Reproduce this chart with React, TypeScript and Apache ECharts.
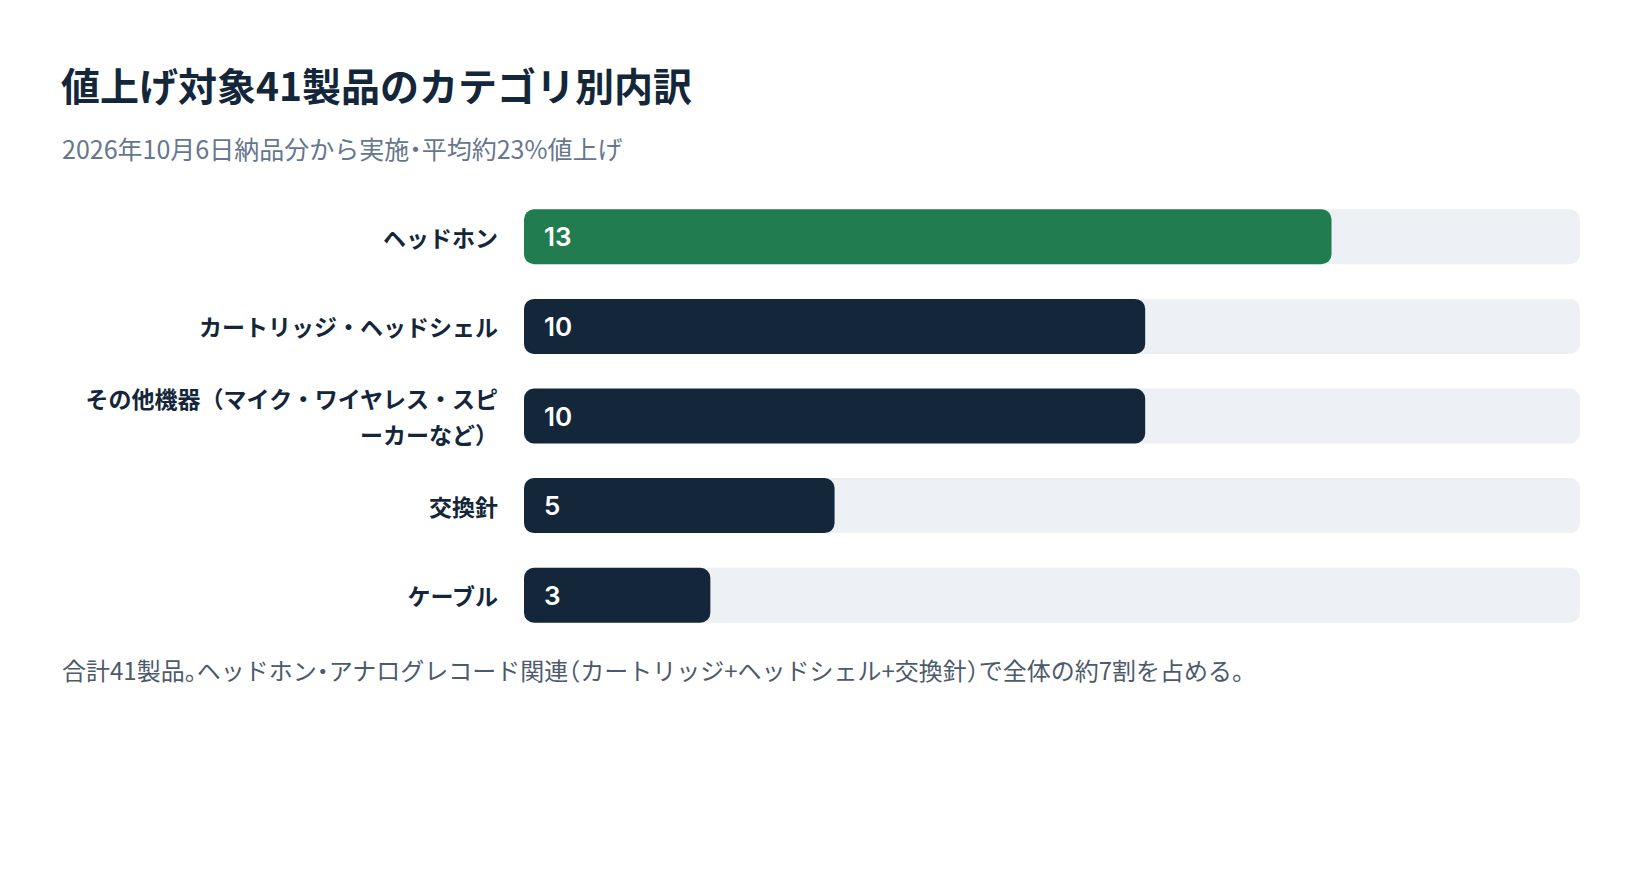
import React, { useEffect, useRef } from 'react';
import * as echarts from 'echarts';

// カテゴリ別の値上げ対象製品数
const categories = [
  'ヘッドホン',
  'カートリッジ・ヘッドシェル',
  'その他機器（マイク・ワイヤレス・スピーカーなど）',
  '交換針',
  'ケーブル',
];
const counts = [13, 10, 10, 5, 3];
const highlightCategory = 'ヘッドホン';
const axisMax = 17;

const titleText = '値上げ対象41製品のカテゴリ別内訳';
const subtitleText = '2026年10月6日納品分から実施・平均約23%値上げ';
const footnoteText =
  '合計41製品。ヘッドホン・アナログレコード関連（カートリッジ+ヘッドシェル+交換針）で全体の約7割を占める。';

const JP_FONT = "'Noto Sans CJK JP', 'Noto Sans', sans-serif";
const NAVY = '#14273a';
const GREEN = '#217c4f';
const TRACK = '#edf0f5';

const App: React.FC = () => {
  const chartRef = useRef<HTMLDivElement>(null);

  useEffect(() => {
    if (!chartRef.current) return;
    const chart = echarts.init(chartRef.current, undefined, { renderer: 'svg' });

    const option = {
      animation: false,
      backgroundColor: '#ffffff',
      textStyle: { fontFamily: JP_FONT },
      title: [
        {
          text: titleText,
          left: 56,
          top: 55,
          textStyle: {
            fontFamily: JP_FONT,
            fontSize: 39,
            fontWeight: 'bold',
            color: NAVY,
            lineHeight: 48,
          },
        },
        {
          text: subtitleText,
          left: 57,
          top: 127,
          textStyle: {
            fontFamily: JP_FONT,
            fontSize: 25,
            fontWeight: 'normal',
            color: '#66768c',
            lineHeight: 32,
          },
        },
        {
          text: footnoteText,
          left: 57,
          top: 648,
          textStyle: {
            fontFamily: JP_FONT,
            fontSize: 24,
            fontWeight: 'normal',
            color: '#4d5a6b',
            lineHeight: 32,
          },
        },
      ],
      grid: {
        left: 524,
        right: 60,
        top: 192,
        bottom: 240,
      },
      xAxis: {
        type: 'value',
        min: 0,
        max: axisMax,
        show: false,
      },
      yAxis: {
        type: 'category',
        inverse: true,
        data: categories,
        axisLine: { show: false },
        axisTick: { show: false },
        splitLine: { show: false },
        axisLabel: {
          margin: 26,
          fontFamily: JP_FONT,
          fontSize: 23,
          fontWeight: 'bold',
          color: NAVY,
          width: 420,
          overflow: 'break',
          lineHeight: 36,
        },
      },
      series: [
        {
          type: 'bar',
          barWidth: 55,
          data: counts.map((v, i) => ({
            value: v,
            itemStyle: {
              color: categories[i] === highlightCategory ? GREEN : NAVY,
            },
          })),
          itemStyle: { borderRadius: 10 },
          showBackground: true,
          backgroundStyle: { color: TRACK, borderRadius: 10 },
          label: {
            show: true,
            position: 'insideLeft',
            distance: 20,
            color: '#ffffff',
            fontFamily: "Inter, 'Noto Sans', sans-serif",
            fontSize: 26,
            fontWeight: 600,
          },
        },
      ],
    };

    chart.setOption(option);

    return () => {
      chart.dispose();
    };
  }, []);

  return (
    <>
      <style>
        {'.chart-root svg text:not([text-anchor="end"]) { font-feature-settings: "halt"; }'}
      </style>
      <div
        ref={chartRef}
        className="chart-root"
        style={{ position: 'fixed', left: 0, top: 0, width: 1640, height: 880, background: '#fff' }}
      />
    </>
  );
};

export default App;
